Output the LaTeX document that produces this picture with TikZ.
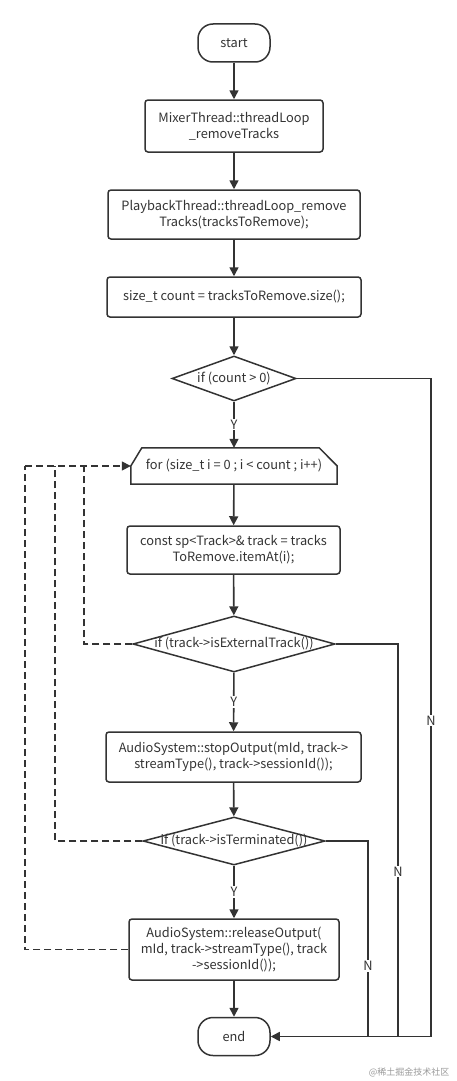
\documentclass[tikz,border=0pt]{standalone}
\usepackage{fontspec}
\setmainfont{Noto Sans CJK SC}
\usetikzlibrary{arrows.meta,shapes.geometric}
\definecolor{ink}{HTML}{333333}
\tikzset{
  x=1pt,y=-1pt,
  every node/.style={text=ink,font=\fontsize{12.8}{16}\selectfont},
  flow/.style={draw=ink,line width=1.6pt,-{Triangle[length=9pt,width=9pt]}},
  plainln/.style={draw=ink,line width=1.5pt},
  backln/.style={draw=ink,line width=1.5pt,dash pattern=on 7pt off 4pt},
  back/.style={backln,-{Triangle[length=9pt,width=9pt]}},
  procbox/.style={draw=ink,line width=1.5pt,rounded corners=3pt,align=center,inner sep=0pt},
  term/.style={draw=ink,line width=1.5pt,rounded corners=15pt,inner sep=0pt,minimum width=72pt,minimum height=38pt},
  decide/.style={draw=ink,line width=1.5pt,diamond,inner sep=0pt},
  lab/.style={fill=white,inner sep=1pt},
}
\begin{document}
\begin{tikzpicture}
\useasboundingbox (0,0) rectangle (456,1081);
\node[term] (start) at (234,43) {start};
\node[procbox,minimum width=178pt,minimum height=52pt] (mixer) at (234,126) {MixerThread::threadLoop\\\_removeTracks};
\node[procbox,minimum width=252pt,minimum height=49pt] (play) at (234,214.5) {PlaybackThread::threadLoop\_remove\\Tracks(tracksToRemove);};
\node[procbox,minimum width=254pt,minimum height=40pt] (size) at (234,297) {size\_t count = tracksToRemove.size();};
\node[decide,minimum width=124pt,minimum height=45pt] (d1) at (234,378.5) {};
\node (d1t) at (d1.center) {if (count > 0)};
\node[minimum width=206pt,minimum height=36pt,inner sep=0pt] (for) at (234,466) {for (size\_t i = 0 ; i < count ; i++)};
\draw[plainln] (for.south west) -- (for.west) -- ([xshift=11pt]for.north west) -- ([xshift=-18pt]for.north east) -- (for.east) -- (for.south east) -- cycle;
\node[procbox,minimum width=213pt,minimum height=48pt] (const) at (233.5,550) {const sp<Track>\& track = tracks\\ToRemove.itemAt(i);};
\node[decide,minimum width=202pt,minimum height=56pt] (d2) at (234,644) {};
\node (d2t) at (d2.center) {if (track->isExternalTrack())};
\node[procbox,minimum width=255pt,minimum height=50pt] (stop) at (233.5,757) {AudioSystem::stopOutput(mId, track->\\streamType(), track->sessionId());};
\node[decide,minimum width=182pt,minimum height=48pt] (d3) at (234,841) {};
\node (d3t) at (d3.center) {if (track->isTerminated())};
\node[procbox,minimum width=210pt,minimum height=61pt] (rel) at (234,949.5) {AudioSystem::releaseOutput(\\mId, track->streamType(), track\\->sessionId());};
\node[term] (end) at (234,1036.5) {end};
\coordinate (r1) at (431,0);
\coordinate (r2) at (398,0);
\coordinate (r3) at (368,0);
\coordinate (l1) at (84,0);
\coordinate (l2) at (55,0);
\coordinate (l3) at (25,0);
% main flow
\draw[flow] (start) -- (mixer);
\draw[flow] (mixer) -- (play);
\draw[flow] (play) -- (size);
\draw[flow] (size) -- (d1);
\draw[flow] (d1) -- node[lab] {Y} (for);
\draw[flow] (for) -- (const);
\draw[flow] (const) -- (d2);
\draw[flow] (d2) -- node[lab] {Y} (stop);
\draw[flow] (stop) -- (d3);
\draw[flow] (d3) -- node[lab] {Y} (rel);
\draw[flow] (rel) -- (end);
% N branches
\draw[plainln] (d1.east) -- (d1.east -| r1) -- node[lab,pos=0.52] {N} (end.east -| r1) -- (end.east -| r2);
\draw[plainln] (d2.east) -- (d2.east -| r2) -- node[lab,pos=0.58] {N} (end.east -| r2) -- (end.east -| r3);
\draw[flow] (d3.east) -- (d3.east -| r3) -- node[lab,pos=0.64] {N} (end.east -| r3) -- (end.east);
% loop backs
\draw[backln] (d2.west) -- (d2.west -| l1) -- (for.west -| l1);
\draw[backln] (d3.west) -- (d3.west -| l2) -- (for.west -| l2);
\draw[backln] (rel.west) -- (rel.west -| l3) -- (for.west -| l3);
\draw[back] (for.west -| l3) -- (for.west);
\node[text=black!40,font=\fontsize{9}{11}\selectfont,anchor=east] (wm) at (453,1072) {@稀土掘金技术社区};
\end{tikzpicture}
\end{document}
